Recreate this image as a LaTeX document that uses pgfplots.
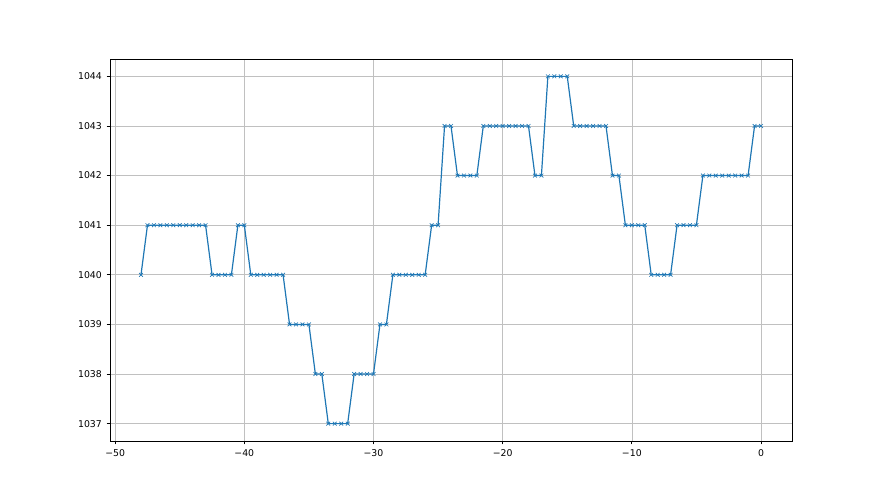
\documentclass[border=0pt]{standalone}
\usepackage{fontspec}
\setmainfont{DejaVu Sans}
\usepackage{pgfplots}
\pgfplotsset{compat=1.18}
\definecolor{mplblue}{HTML}{1F77B4}
\definecolor{gridgray}{HTML}{C0C0C0}
\begin{document}
\begin{tikzpicture}
\begin{axis}[
    scale only axis,
    width=511.5pt, height=286.5pt,
    xmin=-50.4, xmax=2.4,
    ymin=1036.65, ymax=1044.35,
    xtick={-50,-40,-30,-20,-10,0},
    xticklabels={−50,−40,−30,−20,−10,0},
    ytick={1037,1038,1039,1040,1041,1042,1043,1044},
    yticklabels={1037,1038,1039,1040,1041,1042,1043,1044},
    tick label style={font=\fontsize{7}{8}\selectfont},
    grid=major,
    grid style={gridgray, line width=0.5pt},
    axis line style={line width=0.6pt},
    tick style={black, line width=0.6pt},
    tick align=outside,
    major tick length=2.6pt,
    xtick pos=bottom, ytick pos=left,
]
\addplot[color=mplblue, line width=0.9pt, mark=x, mark size=2pt,
         mark options={line width=0.5pt}]
coordinates {
(-48,1040)
(-47.5,1041)(-47,1041)(-46.5,1041)(-46,1041)(-45.5,1041)(-45,1041)(-44.5,1041)(-44,1041)(-43.5,1041)(-43,1041)
(-42.5,1040)(-42,1040)(-41.5,1040)(-41,1040)
(-40.5,1041)(-40,1041)
(-39.5,1040)(-39,1040)(-38.5,1040)(-38,1040)(-37.5,1040)(-37,1040)
(-36.5,1039)(-36,1039)(-35.5,1039)(-35,1039)
(-34.5,1038)(-34,1038)
(-33.5,1037)(-33,1037)(-32.5,1037)(-32,1037)
(-31.5,1038)(-31,1038)(-30.5,1038)(-30,1038)
(-29.5,1039)(-29,1039)
(-28.5,1040)(-28,1040)(-27.5,1040)(-27,1040)(-26.5,1040)(-26,1040)
(-25.5,1041)(-25,1041)
(-24.5,1043)(-24,1043)
(-23.5,1042)(-23,1042)(-22.5,1042)(-22,1042)
(-21.5,1043)(-21,1043)(-20.5,1043)(-20,1043)(-19.5,1043)(-19,1043)(-18.5,1043)(-18,1043)
(-17.5,1042)(-17,1042)
(-16.5,1044)(-16,1044)(-15.5,1044)(-15,1044)
(-14.5,1043)(-14,1043)(-13.5,1043)(-13,1043)(-12.5,1043)(-12,1043)
(-11.5,1042)(-11,1042)
(-10.5,1041)(-10,1041)(-9.5,1041)(-9,1041)
(-8.5,1040)(-8,1040)(-7.5,1040)(-7,1040)
(-6.5,1041)(-6,1041)(-5.5,1041)(-5,1041)
(-4.5,1042)(-4,1042)(-3.5,1042)(-3,1042)(-2.5,1042)(-2,1042)(-1.5,1042)(-1,1042)
(-0.5,1043)(0,1043)
};
\end{axis}
\path[use as bounding box] (-82.5pt,-40.5pt) rectangle (577.5pt,330.75pt);
\end{tikzpicture}
\end{document}
